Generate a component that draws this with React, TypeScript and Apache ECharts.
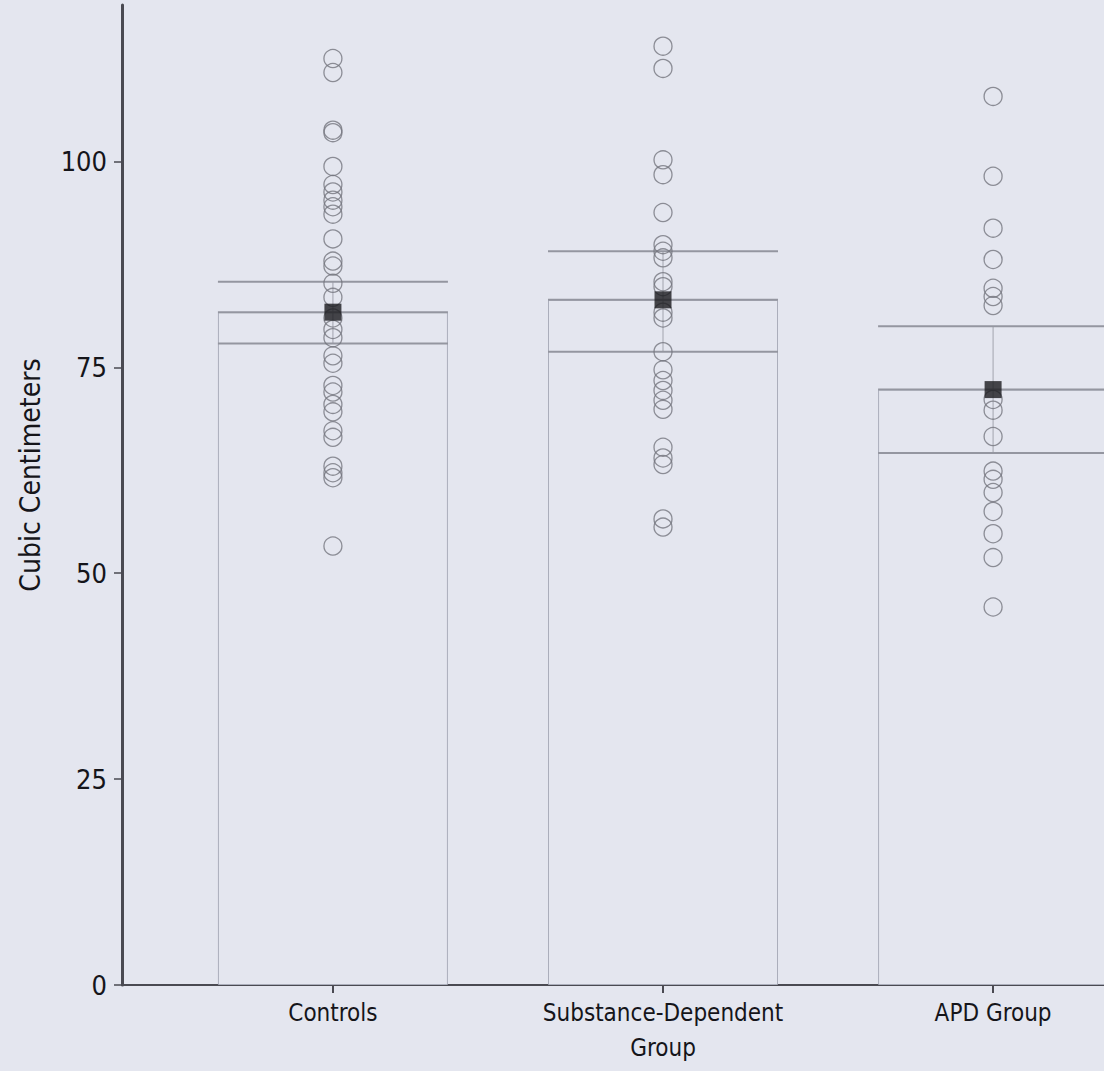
import React, { useEffect, useRef } from "react";
import * as echarts from "echarts";

const categories = ["Controls", "Substance-Dependent\nGroup", "APD Group"];
const categoryPositions = [1, 2, 3];
const yTicks = [0, 25, 50, 75, 100];

const means = [81.7, 83.2, 72.3];
const upperSE = [85.4, 89.1, 80.0];
const lowerSE = [77.9, 76.9, 64.6];

const controlsValues = [
  112.5, 110.8, 103.8, 103.5, 99.4, 97.2, 96.3, 95.3, 94.5, 93.6, 90.6, 87.9, 87.3,
  85.2, 83.5, 81.0, 79.6, 78.6, 76.4, 75.5, 72.8, 72.0, 70.5, 69.6, 67.3, 66.5,
  63.0, 62.2, 61.6, 53.3,
];
const substanceValues = [
  114.0, 111.3, 100.2, 98.4, 93.8, 89.9, 89.1, 88.3, 85.4, 84.8, 81.7, 81.0, 76.9,
  74.7, 73.4, 72.2, 71.0, 69.9, 65.3, 64.0, 63.2, 56.6, 55.6,
];
const apdValues = [
  107.9, 98.2, 91.9, 88.1, 84.6, 83.6, 82.5, 71.1, 69.8, 66.6, 62.4, 61.4, 59.8,
  57.5, 54.8, 51.9, 45.9,
];

const groupValues = [controlsValues, substanceValues, apdValues];

const FONT = "'Liberation Sans Narrow', 'DejaVu Sans Condensed', 'Roboto Condensed', 'Liberation Sans', sans-serif";
const BG = "#e4e6ef";
const TEXT = "#15151a";

export default function App() {
  const ref = useRef<HTMLDivElement>(null);

  useEffect(() => {
    if (!ref.current) return;
    const chart = echarts.init(ref.current, undefined, { renderer: "svg" });

    const pointData: number[][] = [];
    groupValues.forEach((vals, i) => {
      vals.forEach((v) => pointData.push([categoryPositions[i], v]));
    });

    const errData = categoryPositions.map((p, i) => [p, means[i], upperSE[i], lowerSE[i]]);

    chart.setOption({
      animation: false,
      backgroundColor: BG,
      grid: { left: 122, right: 0, top: 5, bottom: 86 },
      xAxis: {
        type: "value",
        min: 0.361,
        max: 3.336,
        splitLine: { show: false },
        axisLine: { show: true, onZero: false, lineStyle: { color: "#4a4a52", width: 2 } },
        axisTick: {
          show: true,
          customValues: categoryPositions,
          length: 8,
          lineStyle: { color: "#4a4a52", width: 2 },
        },
        axisLabel: {
          customValues: categoryPositions,
          formatter: (v: number) => categories[Math.round(v) - 1] ?? "",
          fontFamily: FONT,
          fontSize: 24,
          color: TEXT,
          margin: 10,
          lineHeight: 35,
        },
      },
      yAxis: {
        type: "value",
        min: 0,
        max: 119,
        name: "Cubic Centimeters",
        nameLocation: "middle",
        nameGap: 78,
        nameTextStyle: { fontFamily: FONT, fontSize: 28, color: TEXT, padding: [0, 0, 0, 40] },
        splitLine: { show: false },
        axisLine: { show: true, lineStyle: { color: "#4a4a52", width: 3 } },
        axisTick: {
          show: true,
          customValues: yTicks,
          length: 8,
          lineStyle: { color: "#4a4a52", width: 1.5 },
        },
        axisLabel: {
          customValues: yTicks,
          fontFamily: FONT,
          fontSize: 27,
          color: TEXT,
          margin: 15,
        },
      },
      series: [
        {
          type: "bar",
          data: categoryPositions.map((p, i) => [p, means[i]]),
          barWidth: 230,
          z: 1,
          itemStyle: { color: "rgba(0,0,0,0)", borderColor: "#abaebb", borderWidth: 1 },
          silent: true,
        },
        {
          type: "custom",
          z: 2,
          data: errData,
          renderItem: (params: any, api: any) => {
            const x = api.value(0);
            const m = api.coord([x, api.value(1)]);
            const u = api.coord([x, api.value(2)]);
            const l = api.coord([x, api.value(3)]);
            const half = 115;
            const ls = { stroke: "#9496a0", lineWidth: 2 };
            return {
              type: "group",
              children: [
                { type: "line", shape: { x1: m[0], y1: u[1], x2: m[0], y2: l[1] }, style: { stroke: "#a2a4ae", lineWidth: 1 } },
                { type: "line", shape: { x1: m[0] - half, y1: u[1], x2: m[0] + half, y2: u[1] }, style: ls },
                { type: "line", shape: { x1: m[0] - half, y1: m[1], x2: m[0] + half, y2: m[1] }, style: ls },
                { type: "line", shape: { x1: m[0] - half, y1: l[1], x2: m[0] + half, y2: l[1] }, style: ls },
              ],
            };
          },
        },
        {
          type: "scatter",
          z: 3,
          data: pointData,
          symbol: "circle",
          symbolSize: 18,
          itemStyle: { color: "rgba(0,0,0,0)", borderColor: "#74767e", borderWidth: 1.3 },
        },
        {
          type: "scatter",
          z: 4,
          data: categoryPositions.map((p, i) => [p, means[i]]),
          symbol: "rect",
          symbolSize: 17,
          itemStyle: { color: "#1a1a1e" },
        },
      ],
    });

    return () => chart.dispose();
  }, []);

  return (
    <div
      ref={ref}
      style={{ position: "fixed", left: 0, top: 0, width: 1104, height: 1071, background: BG }}
    />
  );
}
